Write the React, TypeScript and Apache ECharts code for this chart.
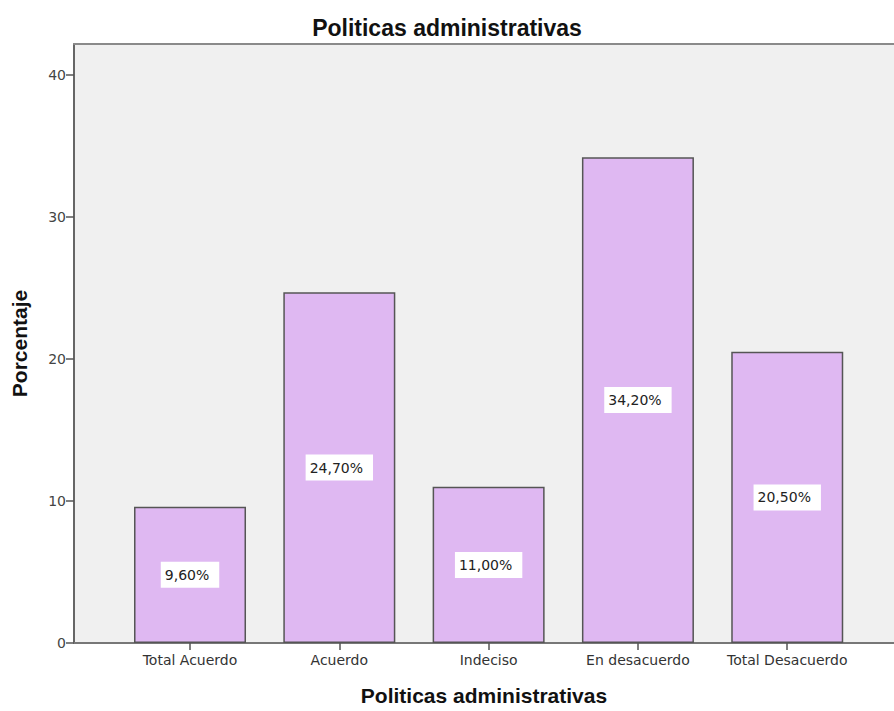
import React, { useEffect, useRef } from "react";
import * as echarts from "echarts";

const categories = ["Total Acuerdo", "Acuerdo", "Indeciso", "En desacuerdo", "Total Desacuerdo"];
const percentages = [9.6, 24.7, 11.0, 34.2, 20.5];
const yTicks = [0, 10, 20, 30, 40];
const chartTitle = "Politicas administrativas";
const xAxisTitle = "Politicas administrativas";
const yAxisTitle = "Porcentaje";

const fmtPct = (v: number) => v.toFixed(2).replace(".", ",") + "%";

// horizontal extent of the category axis (in category-index units)
const X_MIN = -0.777;
const X_MAX = 4.715;

export default function App() {
  const ref = useRef<HTMLDivElement>(null);

  useEffect(() => {
    if (!ref.current) return;
    const chart = echarts.init(ref.current, null, { renderer: "svg" });
    const xIdx = categories.map((_, i) => i);
    const titleFont = {
      fontFamily: "Liberation Sans",
      fontWeight: "bold" as const,
      color: "#111",
    };
    chart.setOption({
      animation: false,
      backgroundColor: "#ffffff",
      title: {
        text: chartTitle,
        left: "center",
        top: 11,
        textStyle: { ...titleFont, fontSize: 23 },
      },
      grid: {
        left: 74,
        top: 44,
        bottom: 65,
        right: 0,
        show: true,
        backgroundColor: "#f0f0f0",
        borderWidth: 0,
      },
      xAxis: [
        {
          type: "value",
          min: X_MIN,
          max: X_MAX,
          name: xAxisTitle,
          nameLocation: "middle",
          nameGap: 42,
          nameTextStyle: { ...titleFont, fontSize: 21 },
          splitLine: { show: false },
          axisLine: { show: true, onZero: false, lineStyle: { color: "#777", width: 2 } },
          axisTick: {
            show: true,
            customValues: xIdx,
            length: 7,
            lineStyle: { color: "#555", width: 1.5 },
          },
          axisLabel: {
            customValues: xIdx,
            formatter: (v: number) => categories[Math.round(v)] ?? "",
            fontFamily: "DejaVu Sans",
            fontSize: 14,
            color: "#333",
            margin: 10,
          },
        },
        {
          // top edge of the plot frame
          type: "value",
          position: "top",
          min: X_MIN,
          max: X_MAX,
          splitLine: { show: false },
          axisLine: { show: true, onZero: false, lineStyle: { color: "#8a8a8a", width: 2 } },
          axisTick: { show: false },
          axisLabel: { show: false },
        },
      ],
      yAxis: {
        type: "value",
        min: 0,
        max: 42.17,
        name: yAxisTitle,
        nameLocation: "middle",
        nameGap: 44,
        nameTextStyle: { ...titleFont, fontSize: 21 },
        splitLine: { show: false },
        axisLine: { show: true, onZero: false, lineStyle: { color: "#666", width: 2 } },
        axisTick: {
          show: true,
          customValues: yTicks,
          length: 8,
          lineStyle: { color: "#555", width: 1.5 },
        },
        axisLabel: {
          customValues: yTicks,
          fontFamily: "DejaVu Sans",
          fontSize: 14,
          color: "#444",
          margin: 8,
        },
      },
      series: [
        {
          type: "bar",
          xAxisIndex: 0,
          barWidth: 112,
          data: percentages.map((v, i) => [i, v]),
          itemStyle: {
            color: "#dfb8f2",
            borderColor: "#555555",
            borderWidth: 1.5,
          },
          label: {
            show: true,
            position: "inside",
            formatter: (p: any) => fmtPct(p.value[1]),
            fontFamily: "DejaVu Sans",
            fontSize: 14,
            color: "#222",
            backgroundColor: "#ffffff",
            padding: [6, 10, 6, 4],
          },
        },
      ],
    });
    return () => chart.dispose();
  }, []);

  return (
    <div
      ref={ref}
      style={{ position: "fixed", left: 0, top: 0, width: 894, height: 711 }}
    />
  );
}
